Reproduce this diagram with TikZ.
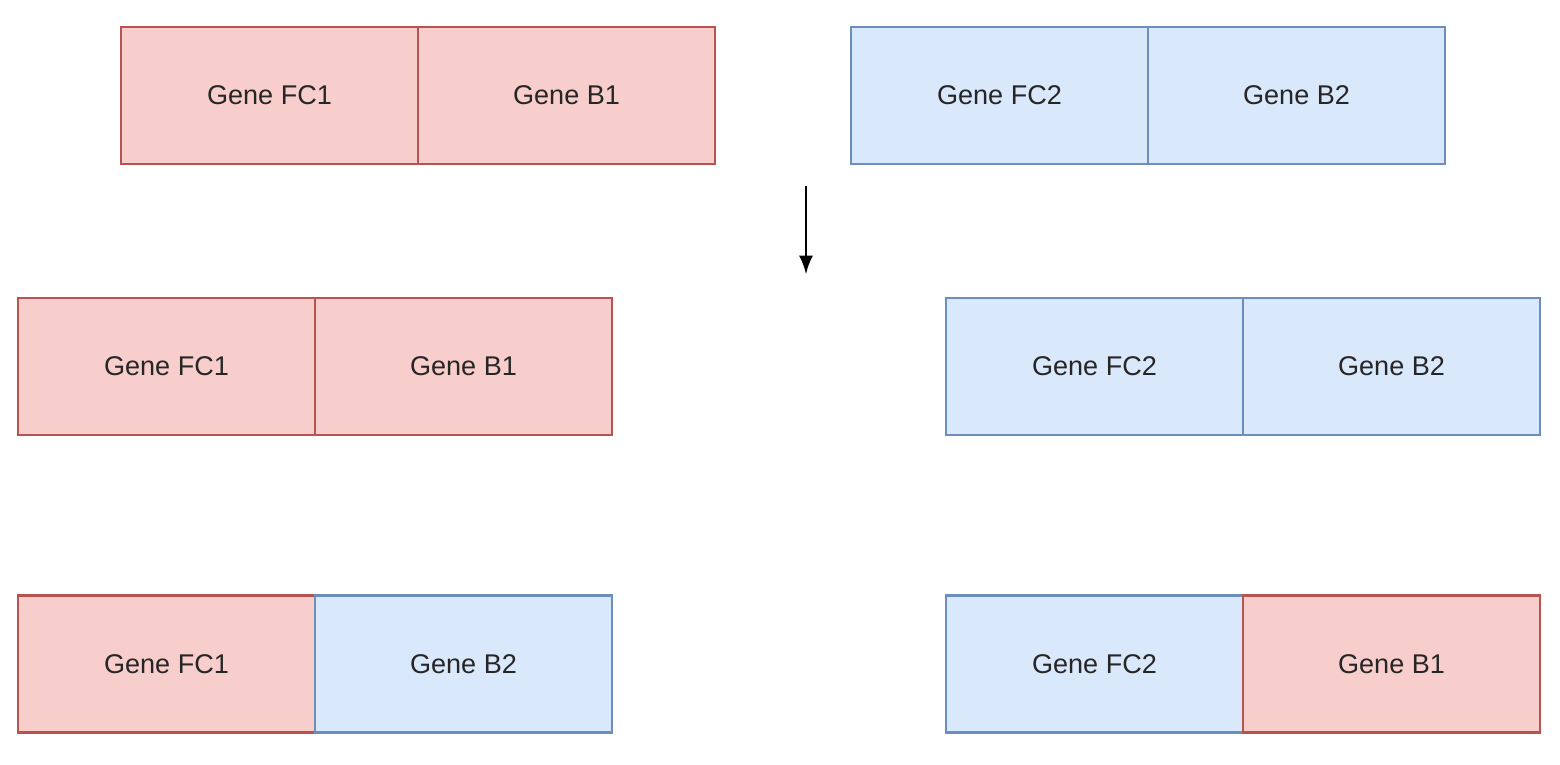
\documentclass[tikz,border=0pt]{standalone}
\usepackage{fontspec}
\setmainfont{Liberation Sans}
\usepackage{tikz}
\usetikzlibrary{arrows,positioning}

\definecolor{redfill}{HTML}{F8CECC}
\definecolor{redline}{HTML}{B85450}
\definecolor{bluefill}{HTML}{DAE8FC}
\definecolor{blueline}{HTML}{6C8EBF}

\tikzset{
  gene/.style={draw, minimum width=2.97cm, minimum height=1.37cm, inner sep=0pt, outer sep=0pt, line width=0.6pt, font=\fontsize{7.7}{9}\selectfont, text=black!85},
  redgene/.style={gene, fill=redfill, draw=redline},
  bluegene/.style={gene, fill=bluefill, draw=blueline}
}

\begin{document}
\begin{tikzpicture}
    \useasboundingbox (0,0) rectangle (15.6,-7.64);

    % parents
    \node[redgene] (fc1a) at (2.695,-0.955) {Gene FC1};
    \node[redgene, right=0pt of fc1a] (b1a) {Gene B1};
    \node[bluegene] (fc2a) at (9.995,-0.955) {Gene FC2};
    \node[bluegene, right=0pt of fc2a] (b2a) {Gene B2};

    \coordinate (arrtop) at (8.06,-1.86);
    \coordinate (arrbot) at (8.06,-2.74);
    \draw[-latex, line width=0.8pt] (arrtop) -- (arrbot);

    \node[redgene] (fc1b) at (1.665,-3.665) {Gene FC1};
    \node[redgene, right=0pt of fc1b] (b1b) {Gene B1};
    \node[bluegene] (fc2b) at (10.945,-3.665) {Gene FC2};
    \node[bluegene, right=0pt of fc2b] (b2b) {Gene B2};

    % fusions
    \node[redgene] (fc1c) at (1.665,-6.64) {Gene FC1};
    \node[bluegene, right=0pt of fc1c] (b2c) {Gene B2};
    \node[bluegene] (fc2c) at (10.945,-6.64) {Gene FC2};
    \node[redgene, right=0pt of fc2c] (b1c) {Gene B1};
\end{tikzpicture}
\end{document}
